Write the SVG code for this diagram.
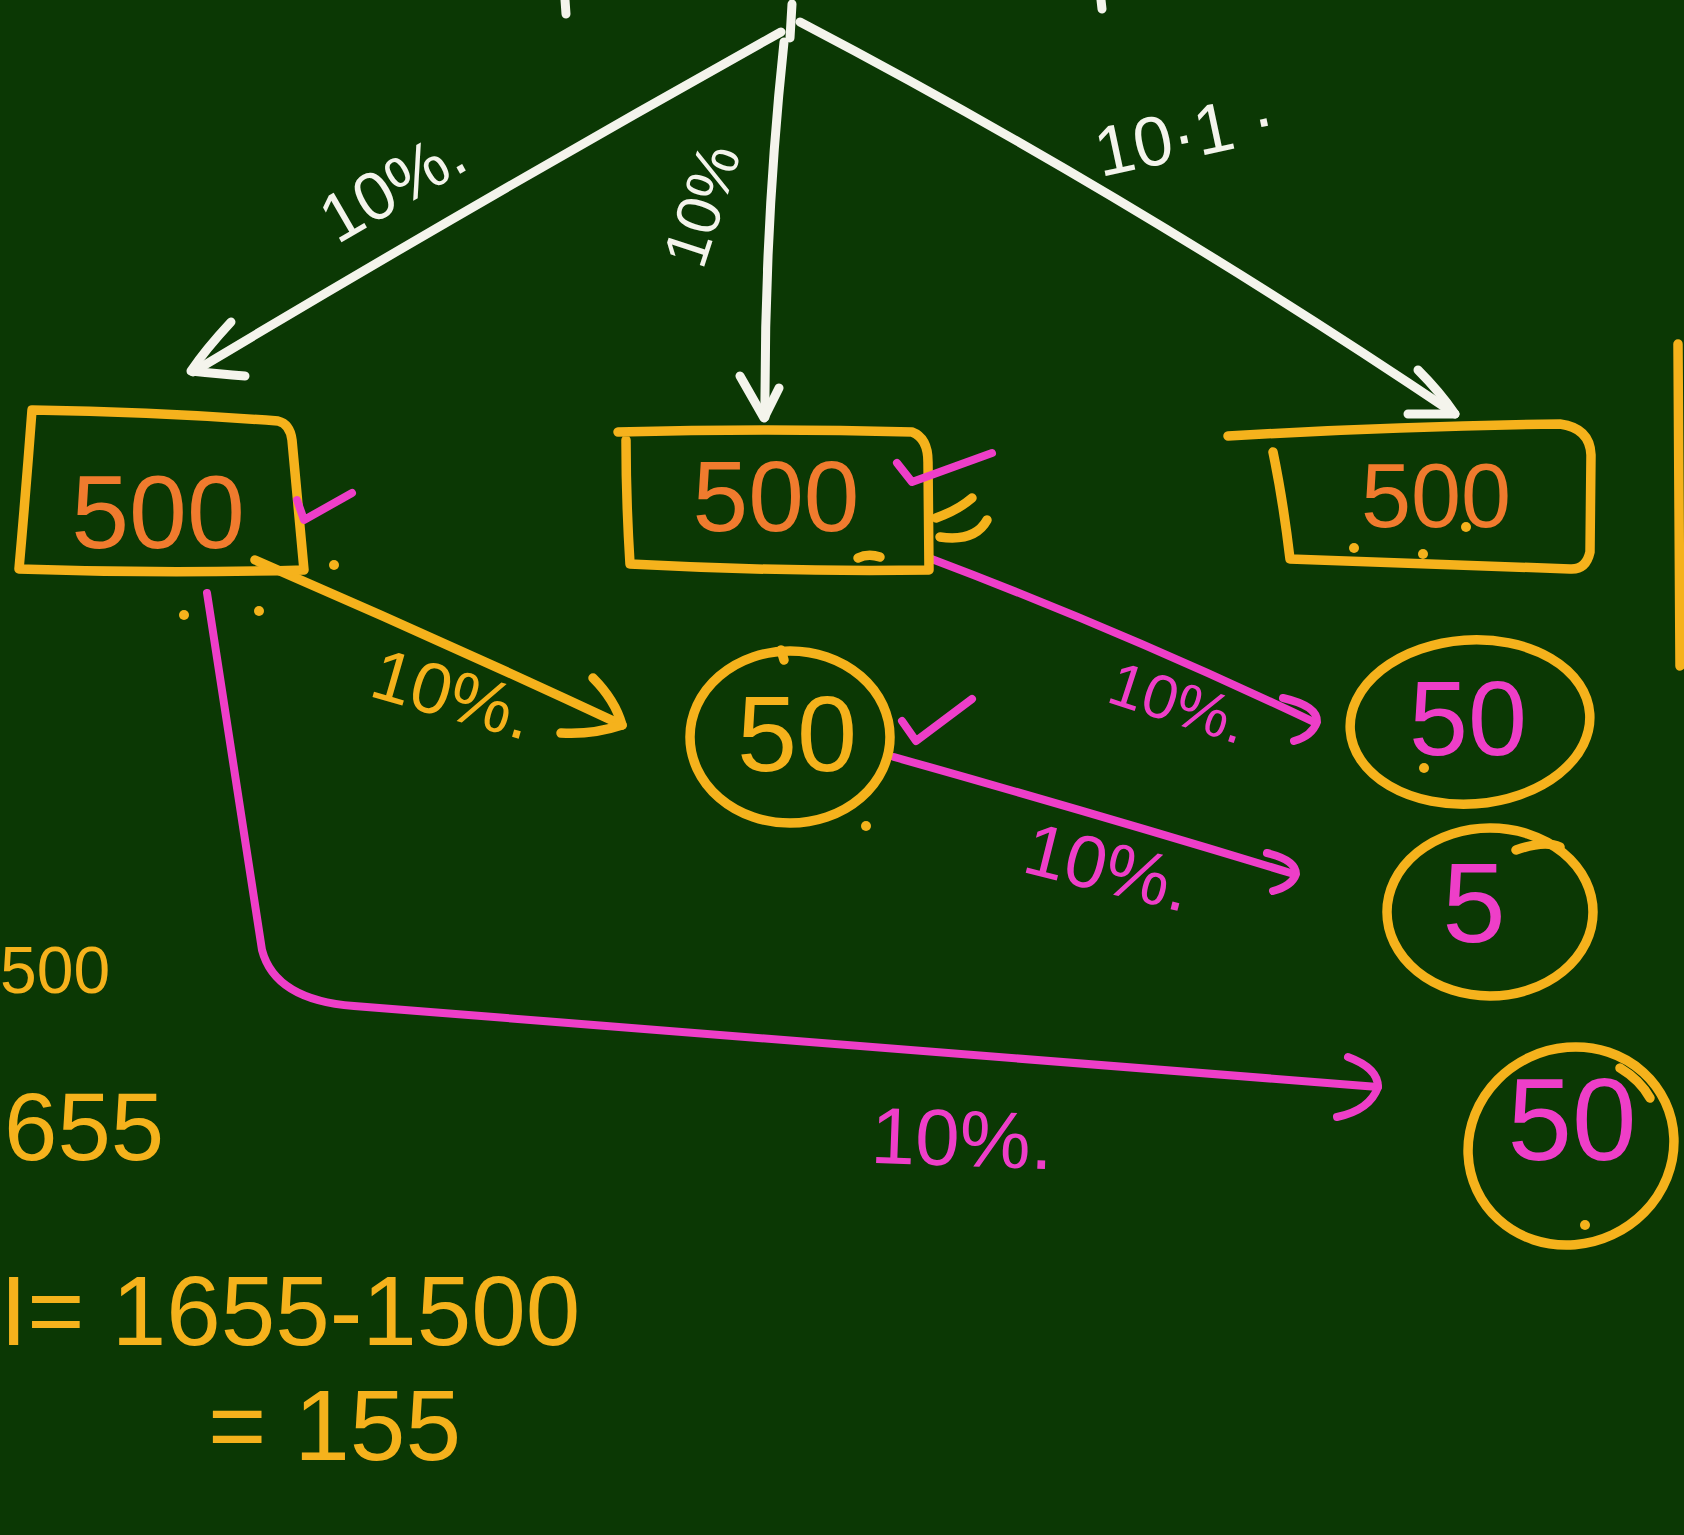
<svg xmlns="http://www.w3.org/2000/svg" width="1684" height="1535" viewBox="0 0 1684 1535">
<style>
.ln{fill:none;stroke-linecap:round;stroke-linejoin:round}
.w{stroke:#f4f4ec;stroke-width:9}
.y{stroke:#f5b21c;stroke-width:9.5}
.p{stroke:#ee3ec8;stroke-width:8}
.t{font-family:"Liberation Sans","DejaVu Sans",sans-serif}
.ty{fill:#f5b21c}
.tp{fill:#ee3ec8}
.to{fill:#f07b2e}
.tw{fill:#f4f4ec}
.dot{fill:#f5b21c}
</style>
<rect width="1684" height="1535" fill="#0b3804"/>

<!-- partial strokes at top edge -->
<g id="top-edge" class="ln w">
<path d="M565,0 L566,14"/>
<path d="M1101,0 L1102,9"/>
<path d="M792,4 L790,38"/>
</g>

<g id="connectors">
<!-- white arrows from top -->
<path class="ln w" d="M781,32 Q480,200 193,372"/>
<path class="ln w" d="M231,322 Q205,350 191,371 Q220,374 245,376"/>
<path class="ln w" d="M784,42 Q764,230 765,417"/>
<path class="ln w" d="M740,376 L764,418 L779,388"/>
<path class="ln w" d="M800,22 Q1130,195 1455,414"/>
<path class="ln w" d="M1418,370 Q1440,392 1455,414 L1408,414"/>
<!-- yellow arrow -->
<path class="ln y" d="M255,560 Q440,640 622,725"/>
<path class="ln y" d="M593,678 Q615,700 622,725 Q592,735 561,733"/>
<!-- pink arrows -->
<path class="ln p" d="M929,558 Q1120,630 1316,723"/>
<path class="ln p" d="M1283,698 Q1318,706 1317,722 Q1312,736 1294,741"/>
<path class="ln p" d="M894,757 Q1100,815 1294,874"/>
<path class="ln p" d="M1267,853 Q1296,860 1296,874 Q1292,886 1273,891"/>
<path class="ln p" d="M207,593 L262,950 Q275,1000 354,1006 L1378,1087"/>
<path class="ln p" d="M1348,1057 Q1378,1068 1378,1087 Q1370,1110 1337,1117"/>
<!-- labels -->
<text class="t tw" font-size="68" transform="translate(404,206) rotate(-30)" text-anchor="middle">10%.</text>
<text class="t tw" font-size="62" transform="translate(722,212) rotate(-72)" text-anchor="middle">10%</text>
<text class="t tw" font-size="70" transform="translate(1190,158) rotate(-12)" text-anchor="middle">10·1 ·</text>
<text class="t ty" font-size="72" transform="translate(446,718) rotate(16)" text-anchor="middle">10%.</text>
<text class="t tp" font-size="62" transform="translate(1172,723) rotate(18)" text-anchor="middle">10%.</text>
<text class="t tp" font-size="74" transform="translate(1102,892) rotate(14)" text-anchor="middle">10%.</text>
<text class="t tp" font-size="80" transform="translate(961,1166) rotate(2)" text-anchor="middle">10%.</text>
</g>

<g id="box1">
<path class="ln y" d="M32,410 Q160,412 278,421 Q290,424 292,440 L304,570 Q160,574 19,569 Q26,490 32,410 Z"/>
<text class="t to" x="158" y="548" font-size="104" text-anchor="middle">500</text>
<path class="ln p" d="M297,500 L304,520 L352,493"/>
<circle class="dot" cx="334" cy="565" r="5"/>
<circle class="dot" cx="184" cy="615" r="5"/>
<circle class="dot" cx="259" cy="611" r="5"/>
</g>

<g id="box2">
<path class="ln y" d="M618,432 Q770,428 912,432 Q928,438 928,462 L929,570 Q780,572 630,564 Q626,500 626,440"/>
<text class="t to" x="776" y="531" font-size="100" text-anchor="middle">500</text>
<path class="ln p" d="M897,463 L912,482 L992,453"/>
<path class="ln y" d="M972,498 Q958,510 936,518"/>
<path class="ln y" d="M987,520 Q975,542 940,537"/>
<path class="ln y" d="M858,558 Q868,553 880,557"/>
</g>

<g id="box3">
<path class="ln y" d="M1228,436 Q1400,426 1560,424 Q1590,428 1591,455 L1590,552 Q1586,570 1570,569 L1290,559 Q1283,500 1273,452"/>
<text class="t to" x="1436" y="527" font-size="90" text-anchor="middle">500</text>
<circle class="dot" cx="1354" cy="548" r="5"/>
<circle class="dot" cx="1423" cy="554" r="5"/>
<circle class="dot" cx="1466" cy="527" r="5"/>
</g>

<g id="circle-50-a">
<ellipse class="ln y" cx="790" cy="737" rx="100" ry="86"/>
<path class="ln y" d="M781,650 L784,660"/>
<text class="t ty" x="797" y="771" font-size="108" text-anchor="middle">50</text>
<path class="ln p" d="M902,721 L916,741 L972,699"/>
<circle class="dot" cx="866" cy="826" r="5"/>
</g>

<g id="circle-50-b">
<ellipse class="ln y" cx="1470" cy="722" rx="120" ry="82" transform="rotate(-4 1470 722)"/>
<text class="t tp" x="1468" y="755" font-size="106" text-anchor="middle">50</text>
<circle class="dot" cx="1424" cy="768" r="5"/>
</g>

<g id="circle-5">
<ellipse class="ln y" cx="1490" cy="912" rx="103" ry="84"/>
<path class="ln y" d="M1516,850 Q1545,840 1560,847"/>
<text class="t tp" x="1474" y="942" font-size="114" text-anchor="middle">5</text>
</g>

<g id="circle-50-c">
<ellipse class="ln y" cx="1571" cy="1146" rx="104" ry="98" transform="rotate(-25 1571 1146)"/>
<path class="ln y" d="M1620,1068 Q1640,1080 1650,1098"/>
<text class="t tp" x="1572" y="1160" font-size="116" text-anchor="middle">50</text>
<circle class="dot" cx="1585" cy="1225" r="5"/>
</g>

<g id="right-edge">
<path class="ln y" d="M1678,344 L1680,666"/>
</g>

<g id="notes">
<text class="t ty" x="0" y="993" font-size="66">500</text>
<text class="t ty" x="4" y="1160" font-size="96">655</text>
<text class="t ty" x="0" y="1345" font-size="98">I= 1655-1500</text>
<text class="t ty" x="208" y="1460" font-size="100">= 155</text>
</g>
</svg>
